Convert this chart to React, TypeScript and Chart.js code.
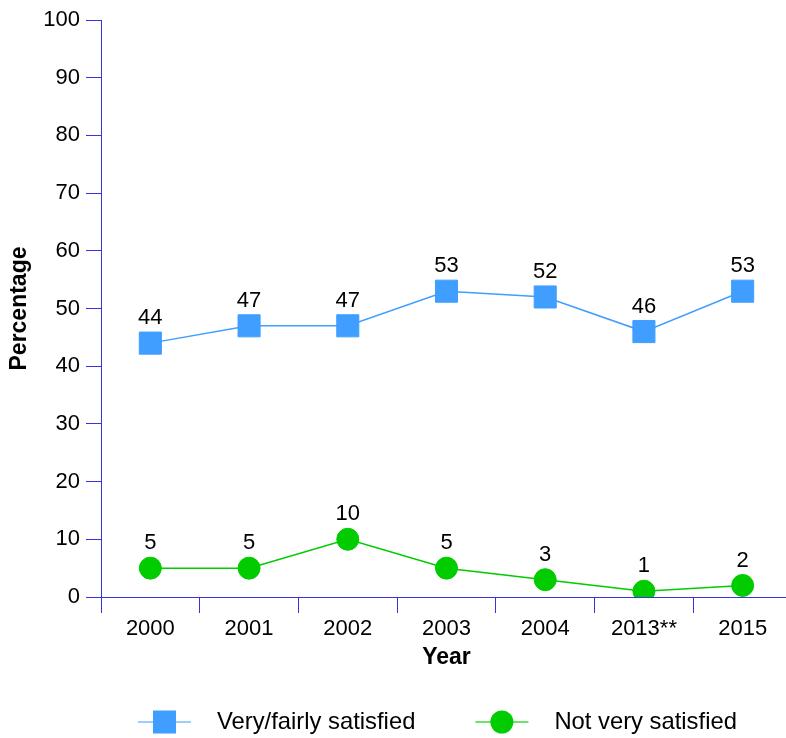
import React, { useEffect, useRef } from "react";
import { Chart, registerables } from "chart.js";

Chart.register(...registerables);

// Survey years and percentages
const years = ["2000", "2001", "2002", "2003", "2004", "2013**", "2015"];
const satisfied = [44, 47, 47, 53, 52, 46, 53];
const notSatisfied = [5, 5, 10, 5, 3, 1, 2];
const yTicks = [0, 10, 20, 30, 40, 50, 60, 70, 80, 90, 100];

const FONT = '"Liberation Sans", Arial, Helvetica, sans-serif';
const AXIS_BLUE = "#3535dd";
const BLUE = "#3f9eff";
const GREEN = "#00cc00";

const seriesNames = ["Very/fairly satisfied", "Not very satisfied"];
const seriesColors = [BLUE, GREEN];
const legendLineColors = ["#9ccdff", "#70e070"];
const seriesStyles = ["rect", "circle"];

// Value labels written above each marker
const valueLabels = {
  id: "valueLabels",
  afterDatasetsDraw(chart: any) {
    const ctx = chart.ctx;
    ctx.save();
    ctx.font = `22px ${FONT}`;
    ctx.fillStyle = "#000";
    ctx.textAlign = "center";
    ctx.textBaseline = "middle";
    chart.data.datasets.forEach((ds: any, i: number) => {
      const meta = chart.getDatasetMeta(i);
      meta.data.forEach((pt: any, j: number) => {
        ctx.fillText(String(ds.data[j]), pt.x, pt.y - 25);
      });
    });
    ctx.restore();
  },
};

// Legend with a short line through each marker, drawn under the axes
const lineLegend = {
  id: "lineLegend",
  afterDraw(chart: any) {
    const ctx = chart.ctx;
    const { left } = chart.chartArea;
    ctx.save();
    ctx.font = `23.8px ${FONT}`;
    const lineLen = 53;
    const textGap = 26;
    const itemGap = 60;
    const widths = seriesNames.map((n) => ctx.measureText(n).width);
    let x = left + 37;
    const y = 722;
    seriesNames.forEach((name, i) => {
      ctx.strokeStyle = legendLineColors[i];
      ctx.lineWidth = 2;
      ctx.beginPath();
      ctx.moveTo(x, y);
      ctx.lineTo(x + lineLen, y);
      ctx.stroke();
      const cx = x + lineLen / 2;
      ctx.fillStyle = seriesColors[i];
      if (seriesStyles[i] === "rect") {
        ctx.fillRect(cx - 11.5, y - 11.5, 23, 23);
      } else {
        ctx.beginPath();
        ctx.arc(cx, y, 11.5, 0, Math.PI * 2);
        ctx.fill();
      }
      ctx.fillStyle = "#000";
      ctx.textAlign = "left";
      ctx.textBaseline = "middle";
      ctx.fillText(name, x + lineLen + textGap, y);
      x += lineLen + textGap + widths[i] + itemGap;
    });
    ctx.restore();
  },
};

export default function App() {
  const canvasRef = useRef<HTMLCanvasElement | null>(null);

  useEffect(() => {
    if (!canvasRef.current) return;
    const chart = new Chart(canvasRef.current, {
      type: "line",
      data: {
        labels: years,
        datasets: [
          {
            label: seriesNames[0],
            data: satisfied,
            borderColor: BLUE,
            backgroundColor: BLUE,
            borderWidth: 1.5,
            pointStyle: "rect",
            pointRadius: 15.6,
            pointHoverRadius: 15.6,
            pointBorderWidth: 1,
            pointBorderColor: BLUE,
            pointBackgroundColor: BLUE,
          },
          {
            label: seriesNames[1],
            data: notSatisfied,
            borderColor: GREEN,
            backgroundColor: GREEN,
            borderWidth: 1.5,
            pointStyle: "circle",
            pointRadius: 11,
            pointHoverRadius: 11,
            pointBorderWidth: 1,
            pointBorderColor: GREEN,
            pointBackgroundColor: GREEN,
          },
        ],
      },
      options: {
        responsive: false,
        animation: false,
        layout: {
          autoPadding: false,
          padding: { top: 20, right: 1, left: 0, bottom: 67 },
        },
        plugins: {
          legend: { display: false },
          tooltip: { enabled: false },
        },
        scales: {
          x: {
            type: "category",
            offset: true,
            grid: {
              offset: true,
              drawOnChartArea: false,
              drawTicks: true,
              tickLength: 16,
              color: AXIS_BLUE,
            },
            border: { display: true, color: AXIS_BLUE, width: 1 },
            ticks: {
              color: "#000",
              font: { family: FONT, size: 22 },
              padding: 3,
              maxRotation: 0,
            },
            title: {
              display: true,
              text: "Year",
              color: "#000",
              font: { family: FONT, size: 23, weight: "bold" },
              padding: { top: 0, bottom: 0 },
            },
            afterFit(scale: any) {
              scale.height = 74;
              scale.paddingLeft = 0;
              scale.paddingRight = 0;
            },
          },
          y: {
            min: 0,
            max: 100,
            afterBuildTicks(scale: any) {
              scale.ticks = yTicks.map((v) => ({ value: v }));
            },
            grid: {
              drawOnChartArea: false,
              drawTicks: true,
              tickLength: 15,
              color: AXIS_BLUE,
            },
            border: { display: true, color: AXIS_BLUE, width: 1 },
            ticks: {
              color: "#000",
              font: { family: FONT, size: 22 },
              padding: 6,
            },
            title: {
              display: true,
              text: "Percentage",
              color: "#000",
              font: { family: FONT, size: 23, weight: "bold" },
              padding: { top: 6, bottom: 0 },
            },
            afterFit(scale: any) {
              scale.width = 101;
            },
          },
        },
      },
      plugins: [valueLabels, lineLegend],
    });
    return () => chart.destroy();
  }, []);

  return (
    <div
      style={{
        position: "fixed",
        left: 0,
        top: 0,
        width: 786,
        height: 738,
        overflow: "hidden",
        background: "#fff",
      }}
    >
      <canvas ref={canvasRef} width={793} height={738} />
    </div>
  );
}
